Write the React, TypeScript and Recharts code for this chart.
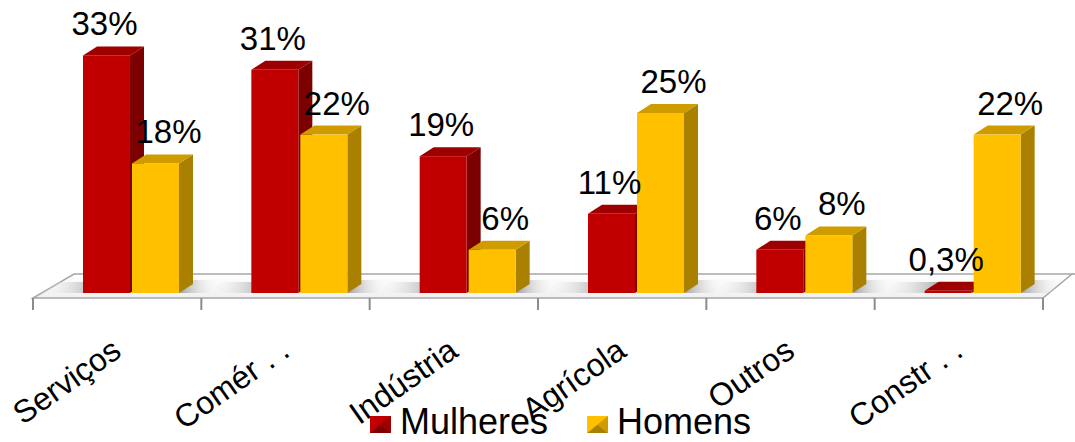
import React from "react";
import { BarChart, Bar, XAxis, YAxis, LabelList, Legend, Customized } from "recharts";

const categories = ["Serviços", "Comér . .", "Indústria", "Agrícola", "Outros", "Constr . ."];
const mulheres = [33, 31, 19, 11, 6, 0.3];
const homens = [18, 22, 6, 25, 8, 22];
const yDomain = [0, 35];

const data = categories.map((name, i) => ({ name, mulheres: mulheres[i], homens: homens[i] }));

const W = 1075;
const H = 442;
const MARGIN = { top: 41, right: 32, bottom: 0, left: 33 };
const AXIS_H = 149;
const BASE_Y = H - AXIS_H; // front edge of bar bottoms
const FONT = "'Liberation Sans', Arial, sans-serif";

// 3D look
const DX = 14;
const DY = 9;
const SHIFT = 14;

const RED = { front: "#c00000", top: "#9e0000", side: "#7c0000", shadow: "left" };
const GOLD = { front: "#ffc000", top: "#cf9c00", side: "#a98000", shadow: "right" };
const SERIES_COLORS: Record<string, typeof RED> = { mulheres: RED, homens: GOLD };

const fmt = (v: number) => String(v).replace(".", ",") + "%";

function Box(props: any) {
  const { x, y, width, height, colors } = props;
  const x0 = Number(x) + SHIFT;
  const y0 = Number(y);
  const w = Number(width);
  const h = Number(height);
  if (!isFinite(x0) || !isFinite(y0)) return null;
  const fy = y0 + h;
  const shadow =
    colors.shadow === "left" ? (
      <polygon
        points={`${x0 - 44},${fy} ${x0},${fy} ${x0 + DX},${fy - DY - 2} ${x0 - 30},${fy - DY - 2}`}
        fill="url(#shadowL)"
      />
    ) : (
      <polygon
        points={`${x0 + w},${fy} ${x0 + w + 30},${fy} ${x0 + w + 40},${fy - DY - 4} ${x0 + w + DX},${fy - DY - 4}`}
        fill="url(#shadowR)"
      />
    );
  return (
    <g>
      {shadow}
      <polygon
        points={`${x0 + w},${y0} ${x0 + w + DX},${y0 - DY} ${x0 + w + DX},${y0 + h - DY} ${x0 + w},${y0 + h}`}
        fill={colors.side}
      />
      <polygon
        points={`${x0},${y0} ${x0 + DX},${y0 - DY} ${x0 + w + DX},${y0 - DY} ${x0 + w},${y0}`}
        fill={colors.top}
      />
      <rect x={x0} y={y0} width={w} height={h} fill={colors.front} />
    </g>
  );
}

const makeLabel = (offset: number) => (p: any) => {
  const cx = Number(p.x) + SHIFT + Number(p.width) / 2 + offset;
  const ty = Number(p.y) - 20;
  return (
    <text x={cx} y={ty} textAnchor="middle" fontSize={33} fontFamily={FONT} fill="#000">
      {fmt(Number(p.value))}
    </text>
  );
};

function CatTick(props: any) {
  const { x, payload } = props;
  const tx = Number(x) + 6;
  const ty = BASE_Y + 62;
  return (
    <text
      x={tx}
      y={ty}
      transform={`rotate(-35 ${tx} ${ty})`}
      textAnchor="end"
      fontSize={32}
      fontFamily={FONT}
      fill="#000"
    >
      {payload.value}
    </text>
  );
}

function Floor() {
  const left = MARGIN.left;
  const right = W - MARGIN.right;
  const front = BASE_Y + 5;
  const back = BASE_Y - 19;
  const step = (right - left) / categories.length;
  const ticks = Array.from({ length: categories.length + 1 }, (_, i) => left + i * step);
  return (
    <g>
      <defs>
        <linearGradient id="floorShade" x1="0" y1="0" x2="0" y2="1">
          <stop offset="0" stopColor="#ffffff" />
          <stop offset="1" stopColor="#f0f0f0" />
        </linearGradient>
        <linearGradient id="shadowL" x1="0" y1="0" x2="1" y2="0">
          <stop offset="0" stopColor="#ffffff" stopOpacity={0} />
          <stop offset="1" stopColor="#9a9a9a" stopOpacity={0.8} />
        </linearGradient>
        <linearGradient id="shadowR" x1="0" y1="0" x2="1" y2="0">
          <stop offset="0" stopColor="#8a8a8a" stopOpacity={0.8} />
          <stop offset="1" stopColor="#ffffff" stopOpacity={0} />
        </linearGradient>
      </defs>
      <polygon
        points={`${left},${front} ${right},${front} ${right + 29},${back} ${left + 41},${back}`}
        fill="url(#floorShade)"
        stroke="#a6a6a6"
        strokeWidth={1.5}
      />
      <line x1={right + 29} y1={back} x2={W} y2={back} stroke="#a6a6a6" strokeWidth={1.5} />
      {ticks.map((t) => (
        <line key={t} x1={t} y1={front} x2={t} y2={front + 12} stroke="#8c8c8c" strokeWidth={2} />
      ))}
    </g>
  );
}

function LegendIcon({ x, y, colors }: any) {
  const w = 21;
  const h = 17;
  const cx = x + w / 2;
  const cy = y + h / 2;
  return (
    <g>
      <rect x={x} y={y} width={w} height={h} fill={colors.front} />
      <polygon points={`${x},${y} ${x + w},${y} ${cx},${cy}`} fill={colors.front} opacity={0.75} />
      <polygon points={`${x},${y + h} ${x + w},${y + h} ${cx},${cy}`} fill={colors.side} />
      <polygon points={`${x + w},${y} ${x + w},${y + h} ${cx},${cy}`} fill={colors.top} />
      <polygon points={`${x},${y} ${x},${y + h} ${cx},${cy}`} fill={colors.front} />
    </g>
  );
}

const LEGEND_ORDER = ["mulheres", "homens"];

function LegendContent(props: any) {
  const items = [...(props.payload || [])].sort(
    (a: any, b: any) => LEGEND_ORDER.indexOf(a.dataKey) - LEGEND_ORDER.indexOf(b.dataKey)
  );
  return (
    <svg width={400} height={34} style={{ display: "block", overflow: "visible" }}>
      {items.map((it: any, i: number) => (
        <g key={it.value}>
          <LegendIcon x={i * 217} y={10} colors={SERIES_COLORS[it.dataKey] || RED} />
          <text x={i * 217 + 30} y={28} fontSize={36} fontFamily={FONT} fill="#000">
            {it.value}
          </text>
        </g>
      ))}
    </svg>
  );
}

export default function App() {
  return (
    <div style={{ position: "absolute", left: 0, top: 0, width: W, height: H, background: "#fff" }}>
      <BarChart width={W} height={H} data={data} margin={MARGIN} barCategoryGap={36} barGap={2}>
        <Customized component={Floor} />
        <XAxis
          dataKey="name"
          height={AXIS_H}
          axisLine={false}
          tickLine={false}
          interval={0}
          tick={<CatTick />}
        />
        <YAxis hide domain={yDomain} />
        <Legend
          layout="horizontal"
          verticalAlign="middle"
          align="center"
          content={<LegendContent />}
          wrapperStyle={{ left: 370, top: 406, width: 400, height: 34 }}
        />
        <Bar
          dataKey="mulheres"
          name="Mulheres"
          fill={RED.front}
          isAnimationActive={false}
          shape={(p: any) => <Box {...p} colors={RED} />}
        >
          <LabelList dataKey="mulheres" content={makeLabel(-2)} />
        </Bar>
        <Bar
          dataKey="homens"
          name="Homens"
          fill={GOLD.front}
          isAnimationActive={false}
          shape={(p: any) => <Box {...p} colors={GOLD} />}
        >
          <LabelList dataKey="homens" content={makeLabel(13)} />
        </Bar>
      </BarChart>
    </div>
  );
}
